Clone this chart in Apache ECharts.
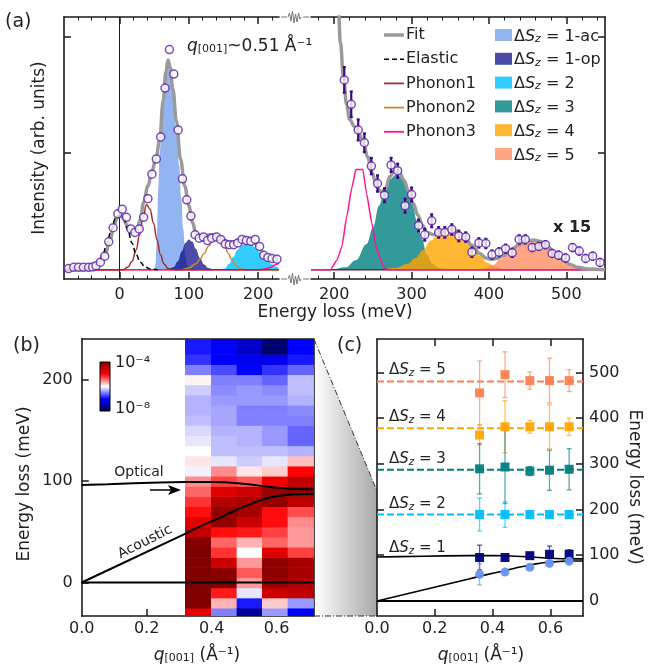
<!DOCTYPE html>
<html>
<head>
<meta charset="utf-8">
<script src="https://cdn.jsdelivr.net/npm/echarts@6/dist/echarts.min.js"></script>
<style>
  html, body { margin: 0; padding: 0; background: #fff; }
  #chart { width: 657px; height: 669px; }
</style>
</head>
<body>
<div id="chart"></div>
<script>
var FONT = 'DejaVu Sans';
var INK = '#1a1a1a';

// ---------- panel (a), left part (x1): [energy meV, intensity] ----------
var ptsLeft = [[-73.5,0.01],[-66,0.02],[-59,0.02],[-52,0.02],[-44.5,0.02],[-38.7,0.024],[-33.8,0.033],[-27.5,0.064],[-21.3,0.116],[-15.5,0.24],[-9.2,0.36],[-2.4,0.48],[3.9,0.52],[10,0.45],[16.4,0.35],[22.2,0.32],[28.5,0.35],[34.8,0.45],[41,0.61],[46.8,0.82],[53.1,0.95],[59.4,1.14],[65.7,1.56],[72,1.89],[78.3,1.68],[84.5,1.2],[90.8,0.78],[97,0.6],[103,0.46],[109,0.3],[115,0.27],[121,0.28],[127,0.25],[133,0.27],[140,0.28],[146,0.26],[152.6,0.22],[158.4,0.215],[164.7,0.215],[170.5,0.23],[176.8,0.26],[183,0.25],[189.4,0.245],[195.7,0.26],[202,0.2],[208,0.124],[214,0.105],[220,0.096],[227,0.09]];
var fitLeft = [[-80,0.015],[-50,0.02],[-40,0.025],[-32,0.045],[-26,0.08],[-20,0.14],[-14,0.25],[-8,0.38],[-3,0.45],[1,0.47],[5,0.45],[10,0.39],[15,0.33],[20,0.31],[25,0.34],[30,0.43],[35,0.58],[41,0.72],[47,0.85],[53,0.97],[58,1.12],[63,1.45],[67,1.7],[70,1.8],[73,1.74],[77,1.55],[82,1.28],[88,0.95],[94,0.72],[100,0.55],[105,0.41],[110,0.32],[116,0.29],[122,0.29],[130,0.3],[137,0.3],[144,0.28],[151,0.25],[158,0.235],[165,0.235],[172,0.25],[180,0.265],[186,0.27],[192,0.25],[198,0.21],[204,0.165],[210,0.125],[216,0.097],[222,0.085],[230,0.08]];
var elasticLeft = [[-80,0],[-45,0.005],[-37,0.022],[-30,0.064],[-24,0.13],[-18,0.23],[-12,0.34],[-6,0.44],[0,0.47],[6,0.44],[12,0.34],[18,0.23],[24,0.13],[30,0.064],[37,0.022],[45,0.005],[55,0]];
var phonon1Left = [[-80,0],[5,0],[12,0.02],[18,0.07],[24,0.17],[29,0.3],[34,0.45],[39,0.56],[44,0.52],[49,0.4],[54,0.26],[59,0.13],[64,0.05],[70,0.01],[78,0],[230,0]];
var phonon2Left = [[-80,0],[90,0],[100,0.015],[110,0.05],[116,0.09],[122,0.14],[128,0.2],[134,0.25],[140,0.27],[146,0.25],[152,0.2],[157,0.14],[162,0.085],[167,0.04],[172,0.015],[180,0],[230,0]];
var phonon3Left = [[-80,0],[200,0],[210,0.005],[218,0.02],[224,0.04],[230,0.057]];
var sz1acLeft = [[40,0],[50,0],[52,0.05],[54,0.3],[56,0.7],[58,1.0],[61,1.3],[65,1.62],[69,1.78],[73,1.7],[77,1.5],[82,1.2],[86,0.9],[89,0.62],[92,0.35],[95,0.12],[98,0.03],[102,0]];
var sz1opLeft = [[70,0],[78,0.02],[84,0.07],[90,0.16],[95,0.23],[100,0.26],[105,0.24],[110,0.18],[116,0.1],[122,0.045],[128,0.015],[135,0]];
var sz2Left = [[145,0],[152,0.01],[158,0.05],[164,0.11],[170,0.17],[176,0.21],[183,0.23],[190,0.22],[196,0.19],[202,0.15],[208,0.11],[214,0.075],[220,0.045],[226,0.025],[230,0.015]];

// ---------- panel (a), right part (x15): [energy meV, intensity, error] ----------
var ptsRight = [[213,1.63,0.11],[222,1.42,0.11],[231,1.2,0.09],[239,1.09,0.08],[248,0.89,0.07],[256,0.74,0.07],[265,0.64,0.06],[273.5,0.9,0.06],[282,0.85,0.06],[291.6,0.55,0.06],[300,0.645,0.06],[309,0.38,0.05],[317,0.3,0.05],[326,0.42,0.055],[335,0.32,0.045],[343,0.32,0.045],[352,0.345,0.045],[361,0.29,0.045],[370,0.28,0.04],[378,0.15,0.04],[387,0.23,0.04],[396,0.225,0.04],[404,0.13,0.035],[413,0.15,0.035],[421.5,0.18,0.035],[430,0.145,0.035],[439,0.26,0.035],[447,0.26,0.035],[456,0.19,0.03],[464.5,0.2,0.03],[473,0.215,0.03],[481.7,0.14,0.03],[490,0.125,0.03],[499,0.1,0.03],[508,0.19,0.03],[516.7,0.16,0.03],[525,0.096,0.03],[534,0.116,0.03],[543.6,0.062,0.03]];
var fitRight = [[190,3.5],[200,2.8],[205,2.3],[208,1.95],[212,1.65],[216,1.42],[220,1.29],[226,1.23],[232,1.17],[238,1.08],[243,0.97],[249,0.83],[255,0.71],[260,0.67],[266,0.69],[272,0.8],[278,0.85],[284,0.84],[290,0.77],[296,0.68],[302,0.57],[308,0.47],[314,0.38],[320,0.32],[328,0.3],[336,0.315],[345,0.335],[352,0.345],[360,0.325],[368,0.285],[378,0.21],[388,0.14],[396,0.1],[402,0.09],[410,0.095],[418,0.12],[428,0.17],[438,0.21],[448,0.245],[458,0.255],[466,0.245],[475,0.205],[485,0.145],[495,0.085],[505,0.045],[515,0.02],[528,0.005],[550,0]];
var phonon3Right = [[170,0],[195,0],[203.5,0.08],[210,0.2],[216,0.45],[223,0.71],[228,0.86],[237,0.86],[242,0.65],[248.6,0.4],[255,0.17],[264,0.02],[270,0],[550,0]];
var baseRight = [[170,0],[550,0]];
var sz3Right = [[200,0],[215,0.02],[228,0.08],[242,0.22],[250,0.36],[258,0.55],[265,0.68],[272,0.78],[281,0.82],[290,0.77],[300,0.6],[307,0.42],[313,0.27],[320,0.13],[327,0.05],[335,0.015],[350,0]];
var sz4Right = [[260,0],[280,0.015],[295,0.05],[305,0.1],[315,0.17],[325,0.25],[335,0.31],[345,0.335],[352,0.34],[360,0.32],[368,0.28],[378,0.2],[388,0.12],[398,0.06],[408,0.025],[420,0.005],[430,0]];
var sz5Right = [[385,0],[395,0.01],[405,0.04],[415,0.09],[425,0.15],[435,0.2],[445,0.235],[455,0.25],[465,0.24],[475,0.2],[485,0.14],[495,0.08],[505,0.04],[515,0.015],[528,0.003],[540,0]];

// ---------- panel (b): log10 intensity map, 5 q columns, 10 meV rows from -35 meV ----------
var heatQEdges = [0.318, 0.398, 0.477, 0.555, 0.634, 0.713];
var heatEStart = -35, heatEStep = 10;
var heatCols = [
  [-4.8,-4.0,-4.0,-4.0,-4.0,-4.0,-4.0,-4.05,-4.5,-4.75,-5.05,-5.2,-5.4,-5.55,-6.05,-5.9,-6.0,-6.1,-6.15,-6.25,-6.3,-6.3,-6.2,-5.95,-6.5,-6.8,-6.9,-6.9],
  [-6.5,-5.7,-5.1,-4.0,-4.1,-4.6,-5.2,-5.4,-5.05,-4.15,-4.15,-4.4,-4.75,-5.25,-5.55,-6.1,-6.25,-6.25,-6.3,-6.35,-6.35,-6.4,-6.45,-6.5,-6.7,-7.0,-7.0,-7.1],
  [-7.6,-6.9,-6.1,-5.6,-5.35,-5.6,-6.0,-5.7,-5.1,-4.6,-4.3,-4.35,-4.6,-5.35,-5.9,-6.2,-6.25,-6.3,-6.3,-6.5,-6.5,-6.4,-6.4,-6.5,-7.0,-7.1,-7.3,-7.3],
  [-6.4,-5.8,-4.6,-4.2,-4.1,-4.1,-4.75,-5.4,-5.25,-5.05,-5.05,-4.15,-4.2,-4.9,-5.8,-6.1,-6.25,-6.4,-6.4,-6.5,-6.5,-6.4,-6.45,-6.6,-6.8,-7.1,-7.8,-7.8],
  [-7.0,-6.4,-4.5,-4.4,-4.3,-4.3,-5.25,-5.6,-5.6,-5.55,-5.3,-4.5,-4.15,-4.5,-5.0,-5.75,-6.3,-6.6,-6.6,-6.5,-6.45,-6.3,-6.25,-6.25,-6.6,-6.9,-7.0,-7.0]
];
var optical = [[0,96],[0.08,96.8],[0.16,97.8],[0.24,98.6],[0.32,99],[0.4,99],[0.44,98.7],[0.48,97.8],[0.52,96.5],[0.56,95],[0.6,93.4],[0.64,92.4],[0.68,92],[0.713,92]];
var acoustic = [[0,0],[0.318,48],[0.34,51.5],[0.36,54.5],[0.38,57.5],[0.405,61],[0.43,64.5],[0.45,67.5],[0.47,70.5],[0.49,73.5],[0.51,76],[0.53,78.5],[0.55,81],[0.57,83],[0.59,84.5],[0.61,85.5],[0.63,86.3],[0.65,87],[0.68,87.2],[0.713,87.3]];
var zeroLine = [[0,0],[0.713,0]];

// ---------- panel (c): fitted peak energies ----------
var qC = [0.355, 0.443, 0.529, 0.597, 0.665];
var e5 = [455, 495, 482, 482, 482], err5 = [70, 50, 19, 49, 24];
var e4 = [363, 381, 381, 381, 381], err4 = [22, 57, 14, 48, 19];
var e3 = [289, 293, 284, 286, 288], err3 = [55, 80, 10, 44, 45];
var e2 = [189, 189, 189, 189, 189], err2 = [36, 28, 5, 5, 5];
var e1op = [95, 95, 99, 102, 102], err1op = [27, 3, 5, 18, 10];
var e1ac = [58, 63, 73.5, 82, 87], err1ac = [23, 4, 4, 4, 4];
var levelE = [189, 287, 378, 480];
var levelLabels = ['2', '3', '4', '5'];

var C1AC = '#6495ed', C1OP = '#000080', C2 = '#00bfff', C3 = '#008080', C4 = '#ffa500', C5 = '#ff7f50';
var levelColors = [C2, C3, C4, C5];

var chart = echarts.init(document.getElementById('chart'), null, { renderer: 'canvas' });

function ax(grid, pos, min, max, ticks, len, labels, line, fmt) {
  return {
    type: 'value', gridIndex: grid, position: pos, min: min, max: max,
    axisLine: { show: line, onZero: false, lineStyle: { color: INK, width: 1.6 } },
    axisTick: { show: ticks.length > 0, inside: true, length: len, customValues: ticks,
      lineStyle: { color: INK, width: len > 5 ? 1.5 : 1 } },
    axisLabel: labels ? { show: true, customValues: labels, formatter: fmt, fontSize: 16,
      fontFamily: FONT, color: '#222', margin: 8 } : { show: false },
    splitLine: { show: false }
  };
}
function dec1(v) { return v.toFixed(1); }

var minorL = [-60, -40, -20, 20, 40, 60, 80, 120, 140, 160, 180, 220];
var minorR = [180, 220, 240, 260, 280, 320, 340, 360, 380, 420, 440, 460, 480, 520, 540];

var xAxes = [
  ax(0, 'bottom', -80, 230, [0, 100, 200], 7, [0, 100, 200], true),
  ax(0, 'bottom', -80, 230, minorL, 3.5, null, false),
  ax(0, 'top', -80, 230, [0, 100, 200], 7, null, true),
  ax(0, 'top', -80, 230, minorL, 3.5, null, false),
  ax(1, 'bottom', 170, 550, [200, 300, 400, 500], 7, [200, 300, 400, 500], true),
  ax(1, 'bottom', 170, 550, minorR, 3.5, null, false),
  ax(1, 'top', 170, 550, [200, 300, 400, 500], 7, null, true),
  ax(1, 'top', 170, 550, minorR, 3.5, null, false),
  ax(2, 'bottom', 0, 0.713, [0.2, 0.4, 0.6], 7, [0, 0.2, 0.4, 0.6], true, dec1),
  ax(2, 'top', 0, 0.713, [], 0, null, true),
  ax(3, 'bottom', 0, 0.713, [0.2, 0.4, 0.6], 7, [0, 0.2, 0.4, 0.6], true, dec1),
  ax(3, 'top', 0, 0.713, [0.2, 0.4, 0.6], 7, null, true)
];
xAxes[8].axisLabel.margin = 5;
xAxes[10].axisLabel.margin = 5;
var yAxes = [
  ax(0, 'left', -0.08, 2.17, [1, 2], 7, null, true),
  ax(1, 'right', -0.08, 2.17, [1, 2], 7, null, true),
  ax(2, 'left', -33, 240, [0, 100, 200], 7, [0, 100, 200], true),
  ax(2, 'right', -33, 240, [100, 200], 7, null, true),
  ax(3, 'right', -33, 573, [0, 100, 200, 300, 400, 500], 7, [0, 100, 200, 300, 400, 500], true),
  ax(3, 'left', -33, 573, [100, 200, 300, 400, 500], 7, null, true)
];
yAxes[2].axisLabel.margin = 9;
yAxes[4].axisLabel.margin = 6;

function fill(name, data, xi, yi, color, op) {
  return { type: 'line', name: name, data: data, xAxisIndex: xi, yAxisIndex: yi,
    smooth: 0.4, smoothMonotone: 'x', symbol: 'none', color: color,
    lineStyle: { width: 0, opacity: 0 }, areaStyle: { color: color, opacity: op }, z: 2 };
}
function curve(name, data, xi, yi, color, width, type, z, smooth) {
  var s = { type: 'line', name: name, data: data, xAxisIndex: xi, yAxisIndex: yi,
    smooth: smooth === undefined ? 0.4 : smooth, symbol: 'none', color: color,
    lineStyle: { color: color, width: width, type: type || 'solid' }, z: z || 3 };
  if (s.smooth) s.smoothMonotone = 'x';
  return s;
}
function errorBars(data, xi, yi, color, width, cap, op) {
  return { type: 'custom', xAxisIndex: xi, yAxisIndex: yi, data: data, z: 4,
    renderItem: function (params, api) {
      var x = api.value(0), y = api.value(1), e = api.value(2);
      var top = api.coord([x, y + e]), bot = api.coord([x, y - e]);
      var st = { stroke: color, lineWidth: width, opacity: op };
      return { type: 'group', children: [
        { type: 'line', shape: { x1: top[0], y1: top[1], x2: bot[0], y2: bot[1] }, style: st },
        { type: 'line', shape: { x1: top[0] - cap, y1: top[1], x2: top[0] + cap, y2: top[1] }, style: st },
        { type: 'line', shape: { x1: bot[0] - cap, y1: bot[1], x2: bot[0] + cap, y2: bot[1] }, style: st }
      ] };
    } };
}
function zip(q, e, err) { return q.map(function (v, i) { return [v, e[i], err[i]]; }); }

var series = [];
// (a) left
var s0 = fill('ΔSz=1-ac', sz1acLeft, 0, 0, C1AC, 0.7);
s0.markLine = { silent: true, symbol: 'none', label: { show: false }, animation: false,
  lineStyle: { color: INK, width: 1, type: 'solid' }, data: [{ xAxis: 0 }] };
series.push(s0);
series.push(fill('ΔSz=1-op', sz1opLeft, 0, 0, C1OP, 0.7));
series.push(fill('ΔSz=2', sz2Left, 0, 0, C2, 0.8));
series.push(curve('Phonon2', phonon2Left, 0, 0, '#cd853f', 1.5));
series.push(curve('Phonon3', phonon3Left, 0, 0, '#ff1493', 1.5));
series.push(curve('Phonon1', phonon1Left, 0, 0, '#a52a2a', 1.5));
series.push(curve('Fit', fitLeft, 0, 0, '#9a9a9a', 3.5, 'solid', 3));
series.push(curve('Elastic', elasticLeft, 0, 0, '#000', 1.5, [5, 3], 4));
series.push({ type: 'scatter', xAxisIndex: 0, yAxisIndex: 0, data: ptsLeft, symbol: 'circle', symbolSize: 8,
  itemStyle: { color: '#fff', borderColor: '#5b21a6', borderWidth: 1.5 }, z: 5 });
// (a) right, x15
series.push(fill('ΔSz=3', sz3Right, 4, 1, C3, 0.8));
series.push(fill('ΔSz=4', sz4Right, 4, 1, C4, 0.8));
series.push(fill('ΔSz=5', sz5Right, 4, 1, C5, 0.7));
series.push(curve('Phonon1', baseRight, 4, 1, '#7a1f3f', 1.5, 'solid', 3, false));
series.push(curve('Phonon3', phonon3Right, 4, 1, '#ff1493', 1.5, 'solid', 3, 0.15));
series.push(curve('Fit', fitRight, 4, 1, '#9a9a9a', 3.5, 'solid', 3));
series.push(errorBars(ptsRight, 4, 1, '#3d0a7a', 2.2, 1.5, 1));
series.push({ type: 'scatter', xAxisIndex: 4, yAxisIndex: 1, data: ptsRight, symbol: 'circle', symbolSize: 8,
  itemStyle: { color: '#fff', borderColor: '#5b21a6', borderWidth: 1.5 }, z: 5 });

// (b) heat map
var heatData = [];
heatCols.forEach(function (col, c) {
  col.forEach(function (v, r) {
    var e0 = heatEStart + r * heatEStep;
    heatData.push([heatQEdges[c], heatQEdges[c + 1], e0, e0 + heatEStep, v]);
  });
});
var heatIndex = series.length;
series.push({ type: 'custom', xAxisIndex: 8, yAxisIndex: 2, data: heatData, clip: true, z: 1,
  encode: { x: [0, 1], y: [2, 3] },
  renderItem: function (params, api) {
    var p0 = api.coord([api.value(0), api.value(3)]);
    var p1 = api.coord([api.value(1), api.value(2)]);
    return { type: 'rect', shape: { x: p0[0], y: p0[1], width: p1[0] - p0[0] + 0.6, height: p1[1] - p0[1] + 0.6 },
      style: { fill: api.visual('color') } };
  } });
series.push(curve('', zeroLine, 8, 2, '#000', 2, 'solid', 3, false));
series.push(curve('', optical, 8, 2, '#000', 2, 'solid', 3, false));
series.push(curve('', acoustic, 8, 2, '#000', 2, 'solid', 3, false));

// (c) peak energies
series.push(curve('', zeroLine, 10, 4, '#000', 2, 'solid', 3, false));
series.push(curve('', optical, 10, 4, '#000', 1.6, 'solid', 3, false));
series.push(curve('', acoustic, 10, 4, '#000', 1.6, 'solid', 3, false));
levelE.forEach(function (e, i) {
  series.push(curve('', [[0, e], [0.713, e]], 10, 4, levelColors[i], 2, [7, 3], 3, false));
});
var cSets = [[e5, err5, C5, 'rect'], [e4, err4, C4, 'rect'], [e3, err3, C3, 'rect'],
  [e2, err2, C2, 'rect'], [e1op, err1op, C1OP, 'rect'], [e1ac, err1ac, C1AC, 'circle']];
cSets.forEach(function (s) {
  var d = zip(qC, s[0], s[1]);
  series.push(errorBars(d, 10, 4, s[2], 1.3, 2.5, 0.65));
  series.push({ type: 'scatter', xAxisIndex: 10, yAxisIndex: 4, data: d, symbol: s[3], symbolSize: 9,
    itemStyle: { color: s[2], opacity: 0.95 }, z: 5 });
});

// ---------- decorations ----------
function rt(x, y, text, size, extra) {
  var st = { text: text, fontSize: size, fontFamily: FONT, fill: '#222', align: 'left', verticalAlign: 'middle' };
  for (var k in (extra || {})) st[k] = extra[k];
  return { type: 'text', x: x, y: y, style: st, z: 50 };
}
function szRich(size) {
  return {
    d: { fontSize: size, fontFamily: FONT, fill: '#222', lineHeight: size + 3, verticalAlign: 'bottom' },
    s: { fontSize: size, fontFamily: FONT, fontStyle: 'italic', fill: '#222', lineHeight: size + 3, verticalAlign: 'bottom' },
    z: { fontSize: size * 0.68, fontFamily: FONT, fontStyle: 'italic', fill: '#222', lineHeight: size * 0.68, verticalAlign: 'bottom' }
  };
}
function szText(suffix) { return '{d|Δ}{s|S}{z|z}{d| = ' + suffix + '}'; }
var qRich = {
  q: { fontSize: 17, fontFamily: FONT, fontStyle: 'italic', fill: '#222', lineHeight: 20, verticalAlign: 'bottom' },
  b: { fontSize: 11, fontFamily: FONT, fill: '#222', lineHeight: 11, verticalAlign: 'bottom' },
  n: { fontSize: 17, fontFamily: FONT, fill: '#222', lineHeight: 20, verticalAlign: 'bottom' }
};

var graphics = [];
graphics.push(rt(5, 22, '(a)', 19));
graphics.push(rt(13, 346, '(b)', 19));
graphics.push(rt(337, 346, '(c)', 19));
graphics.push(rt(187, 45, '{q|q}{b|[001]}{n|~0.51 Å⁻¹}', 17, { rich: qRich }));
graphics.push(rt(553, 228, 'x 15', 16, { fontWeight: 'bold' }));
graphics.push(rt(335, 313, 'Energy loss (meV)', 17, { align: 'center' }));
graphics.push({ type: 'text', x: 40, y: 148, rotation: Math.PI / 2, z: 50,
  style: { text: 'Intensity (arb. units)', fontSize: 17, fontFamily: FONT, fill: '#222', align: 'center', verticalAlign: 'middle' } });
graphics.push({ type: 'text', x: 25, y: 484, rotation: Math.PI / 2, z: 50,
  style: { text: 'Energy loss (meV)', fontSize: 17, fontFamily: FONT, fill: '#222', align: 'center', verticalAlign: 'middle' } });
graphics.push({ type: 'text', x: 634, y: 487, rotation: -Math.PI / 2, z: 50,
  style: { text: 'Energy loss (meV)', fontSize: 17, fontFamily: FONT, fill: '#222', align: 'center', verticalAlign: 'middle' } });
graphics.push(rt(197, 654, '{q|q}{b|[001]}{n| (Å⁻¹)}', 17, { rich: qRich, align: 'center' }));
graphics.push(rt(481, 654, '{q|q}{b|[001]}{n| (Å⁻¹)}', 17, { rich: qRich, align: 'center' }));

// legend, column 1 (lines)
var legLines = [['Fit', '#9a9a9a', 3.5, null], ['Elastic', '#000', 1.5, [5, 3]], ['Phonon1', '#a52a2a', 1.8, null],
  ['Phonon2', '#cd853f', 1.8, null], ['Phonon3', '#ff1493', 1.8, null]];
legLines.forEach(function (l, i) {
  var y = 35 + i * 24.2;
  graphics.push({ type: 'line', shape: { x1: 384, y1: y, x2: 404, y2: y }, z: 50,
    style: { stroke: l[1], lineWidth: l[2], lineDash: l[3] } });
  graphics.push(rt(406, y, l[0], 16));
});
// legend, column 2 (fills)
var legFills = [['1-ac', C1AC, 0.7], ['1-op', C1OP, 0.7], ['2', C2, 0.8], ['3', C3, 0.8], ['4', C4, 0.8], ['5', C5, 0.7]];
legFills.forEach(function (l, i) {
  var y = 35 + i * 23.8;
  graphics.push({ type: 'rect', shape: { x: 495, y: y - 6, width: 17, height: 12 }, z: 50,
    style: { fill: l[1], opacity: l[2] } });
  graphics.push(rt(514, y, szText(l[0]), 16, { rich: szRich(16) }));
});

// axis break marks
function brk(y) {
  return { type: 'group', z: 50, children: [
    { type: 'line', shape: { x1: 281, y1: y, x2: 287, y2: y }, style: { stroke: '#777', lineWidth: 1 } },
    { type: 'polyline', shape: { points: [[288, y], [289.5, y - 4], [291, y + 4], [292.5, y - 6], [294, y + 6], [295.5, y - 3], [297, y + 5], [298.5, y - 4], [300, y + 2], [301, y]] },
      style: { stroke: '#777', lineWidth: 1, fill: null } },
    { type: 'line', shape: { x1: 303, y1: y, x2: 309, y2: y }, style: { stroke: '#777', lineWidth: 1 } }
  ] };
}
graphics.push(brk(17));
graphics.push(brk(279));

// colour bar inset of (b)
graphics.push({ type: 'rect', shape: { x: 100, y: 362, width: 10, height: 49 }, z: 50,
  style: { stroke: '#000', lineWidth: 1, fill: new echarts.graphic.LinearGradient(0, 0, 0, 1, [
    { offset: 0, color: '#800000' }, { offset: 0.25, color: '#ff0000' }, { offset: 0.5, color: '#ffffff' },
    { offset: 0.75, color: '#0000ff' }, { offset: 1, color: '#00004d' }]) } });
graphics.push(rt(115, 363, '10⁻⁴', 16));
graphics.push(rt(115, 409, '10⁻⁸', 16));

// annotations in (b)
graphics.push(rt(139, 472, 'Optical', 14, { align: 'center' }));
graphics.push({ type: 'text', x: 145, y: 542, rotation: 0.47, z: 50,
  style: { text: 'Acoustic', fontSize: 14, fontFamily: FONT, fill: '#222', align: 'center', verticalAlign: 'middle' } });
graphics.push({ type: 'line', shape: { x1: 150, y1: 490, x2: 174, y2: 490 }, z: 50, style: { stroke: '#000', lineWidth: 1.5 } });
graphics.push({ type: 'polygon', shape: { points: [[181, 490], [168, 485], [171, 490], [168, 495]] }, z: 50, style: { fill: '#000' } });

// zoom connector between (b) and (c)
graphics.push({ type: 'polygon', shape: { points: [[314, 339], [377, 491], [377, 616], [314, 616]] }, z: 0,
  style: { fill: new echarts.graphic.LinearGradient(0, 0, 1, 0, [{ offset: 0, color: '#ffffff' }, { offset: 1, color: '#a8a8a8' }]) } });
graphics.push({ type: 'line', shape: { x1: 314, y1: 339, x2: 377, y2: 491 }, z: 50, style: { stroke: '#333', lineWidth: 1, lineDash: [6, 2, 1, 2] } });
graphics.push({ type: 'line', shape: { x1: 314, y1: 616, x2: 377, y2: 616 }, z: 50, style: { stroke: '#333', lineWidth: 1, lineDash: [6, 2, 1, 2] } });

// level labels in (c)
levelE.concat([100]).forEach(function (e, i) {
  var lab = i < levelLabels.length ? levelLabels[i] : '1';
  var ys = { 189: 503, 287: 458, 378: 416, 480: 369, 100: 547 };
  graphics.push(rt(389, ys[e], szText(lab), 15, { rich: szRich(15) }));
});

chart.setOption({
  animation: false,
  grid: [
    { left: 64, top: 17, width: 215, height: 262 },
    { left: 311, top: 17, width: 294, height: 262 },
    { left: 81.7, top: 339, width: 231.6, height: 277 },
    { left: 377, top: 339, width: 206, height: 277 }
  ],
  xAxis: xAxes,
  yAxis: yAxes,
  visualMap: [{ type: 'continuous', show: false, min: -8, max: -4, dimension: 4, seriesIndex: heatIndex,
    inRange: { color: ['#00004d', '#0000ff', '#ffffff', '#ff0000', '#800000'] } }],
  series: series,
  graphic: graphics
});
</script>
</body>
</html>
